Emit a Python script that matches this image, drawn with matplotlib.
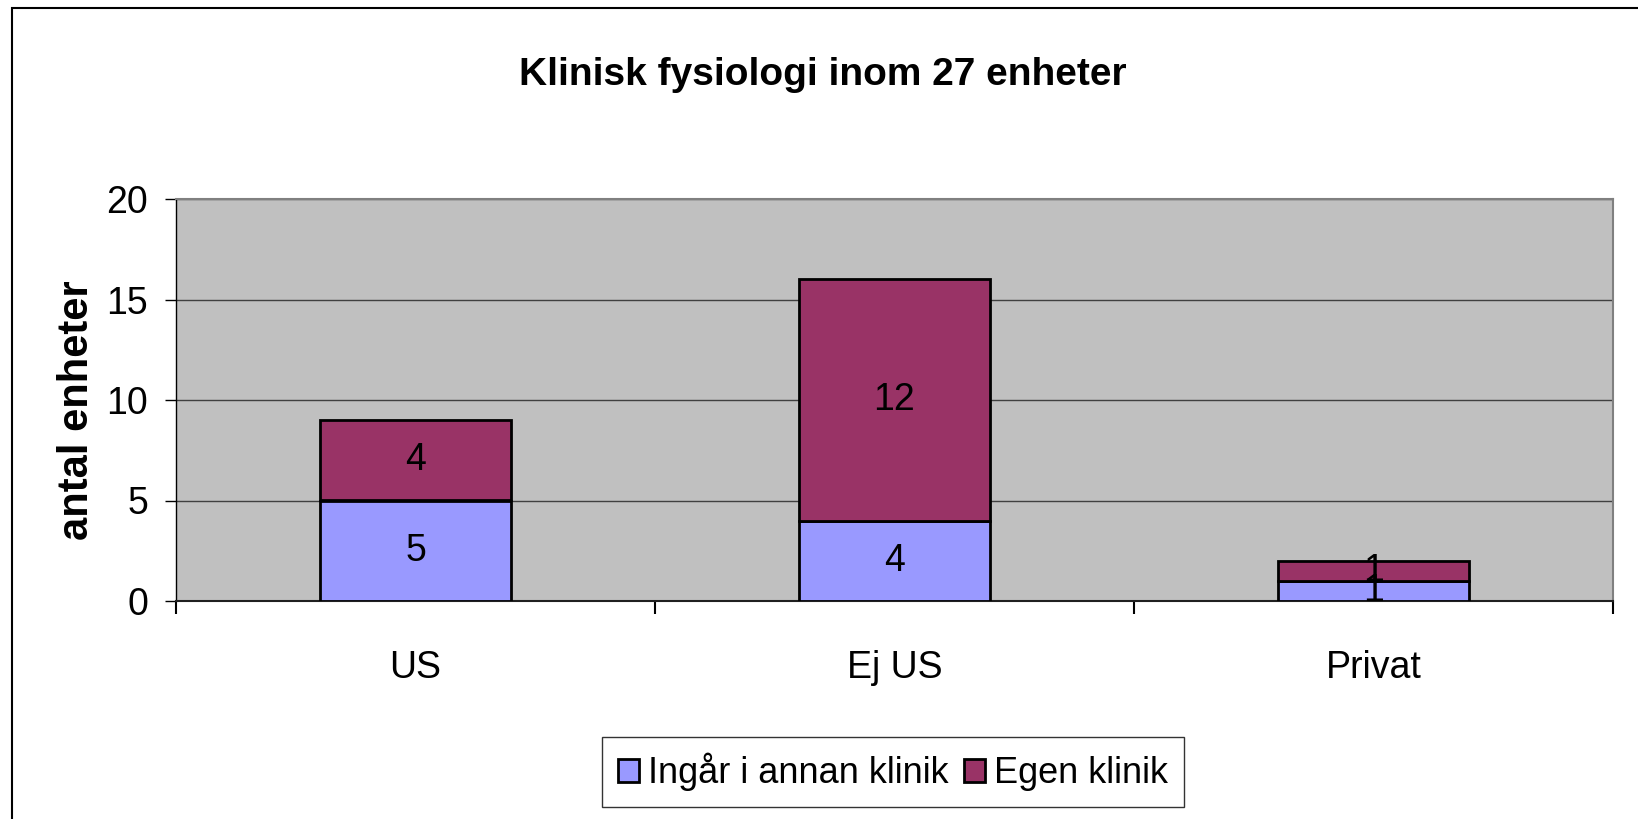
import numpy as np
import matplotlib
matplotlib.use('Agg')
import matplotlib.pyplot as plt
from matplotlib.patches import Rectangle

plt.rcParams['font.family'] = 'Liberation Sans'

categories = ['US', 'Ej US', 'Privat']
ingar = [5, 4, 1]
egen = [4, 12, 1]
series_names = ['Ingår i annan klinik', 'Egen klinik']
yticks = [0, 5, 10, 15, 20]

blue = '#9999FF'
maroon = '#993366'
fs = 27

fig = plt.figure(figsize=(16.38, 8.19), dpi=100)
ax = fig.add_axes([176/1638, 1 - 601/819, (1613 - 176)/1638, (601 - 199)/819])
ax.set_facecolor('#C0C0C0')

x = np.arange(len(categories))
b1 = ax.bar(x, ingar, 0.4, color=blue, edgecolor='black', linewidth=2,
            label=series_names[0], zorder=3)
b2 = ax.bar(x, egen, 0.4, bottom=ingar, color=maroon, edgecolor='black',
            linewidth=2, label=series_names[1], zorder=3)

# value labels in the middle of each segment
for i in range(len(categories)):
    ax.text(x[i], ingar[i] / 2, str(ingar[i]), ha='center', va='center',
            fontsize=fs, zorder=4)
    ax.text(x[i], ingar[i] + egen[i] / 2, str(egen[i]), ha='center', va='center',
            fontsize=fs, zorder=4)

ax.set_xlim(-0.5, 2.5)
ax.set_ylim(0, 20)
ax.set_yticks(yticks)
ax.yaxis.grid(True, color='#404040', linewidth=1, zorder=1)
ax.set_axisbelow(True)
ax.tick_params(axis='y', direction='out', length=8, width=1, pad=12, labelsize=fs)

ax.set_xticks([-0.5, 0.5, 1.5, 2.5])
ax.set_xticklabels([])
ax.set_xticks(x, minor=True)
ax.set_xticklabels(categories, minor=True, fontsize=fs)
ax.tick_params(axis='x', which='major', direction='out', length=9, width=1.5)
ax.tick_params(axis='x', which='minor', length=0, pad=35)

ax.spines['left'].set_color('black')
ax.spines['left'].set_linewidth(1)
ax.spines['bottom'].set_color('#202020')
ax.spines['bottom'].set_linewidth(1.5)
for s in ['top', 'right']:
    ax.spines[s].set_color('#808080')
    ax.spines[s].set_linewidth(1.5)

fig.text(519/1638, 1 - 85/819, 'Klinisk fysiologi inom 27 enheter',
         ha='left', va='baseline', fontsize=28, fontweight='bold')
fig.text(77/1638, 1 - 410/819, 'antal enheter', rotation=90, ha='center',
         va='center', fontsize=30, fontweight='bold')

leg = fig.legend(handles=[b1, b2], loc='center', ncol=2,
                 bbox_to_anchor=((606 + 1180)/2/1638, 1 - 772/819),
                 prop={'size': 26}, frameon=True,
                 fancybox=False, edgecolor='black', handlelength=0.6,
                 handleheight=0.6, handletextpad=0.25, columnspacing=0.4,
                 borderpad=0.45, borderaxespad=0)
leg.get_frame().set_linewidth(1)

# outer chart border (only top and left are visible)
fig.add_artist(Rectangle((12/1638, -0.1), 1.2, 1.1 - 8/819, transform=fig.transFigure,
                         fill=False, edgecolor='black', linewidth=1.5))

fig.savefig('out.png', dpi=100)
